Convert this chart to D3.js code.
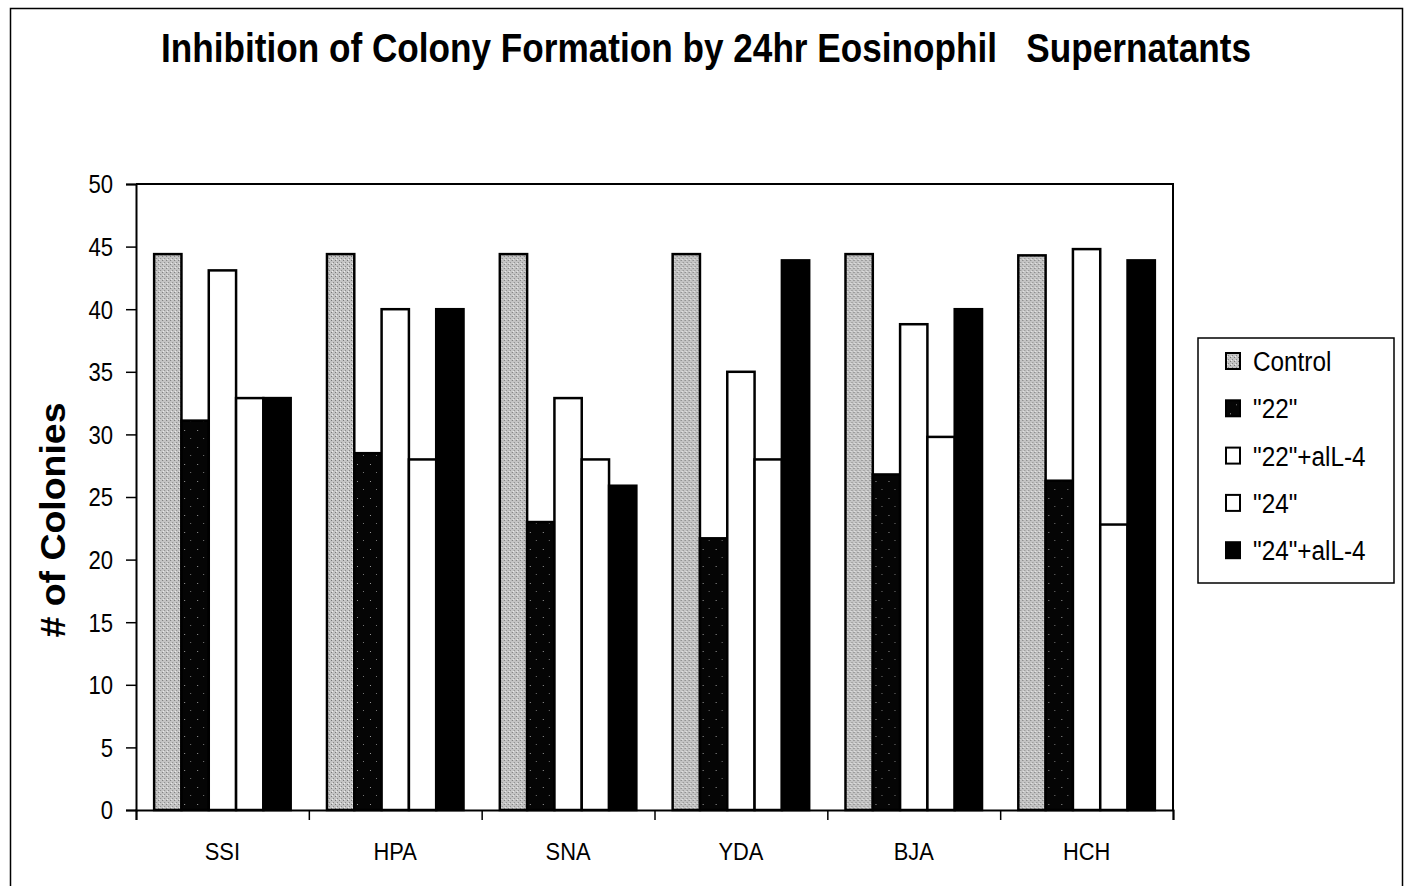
<!DOCTYPE html>
<html><head><meta charset="utf-8">
<script src="https://cdn.jsdelivr.net/npm/d3@7"></script>
<style>body{margin:0;background:#fff;} svg{display:block;}</style>
</head><body>
<script>
const categories = ["SSI","HPA","SNA","YDA","BJA","HCH"];
const seriesNames = ["Control","\"22\"","\"22\"+alL-4","\"24\"","\"24\"+alL-4"];
const control   = [44.4, 44.4, 44.4, 44.4, 44.4, 44.3];
const s22       = [31.1, 28.5, 23.0, 21.7, 26.8, 26.3];
const s22aIL4   = [43.1, 40.0, 32.9, 35.0, 38.8, 44.8];
const s24       = [32.9, 28.0, 28.0, 28.0, 29.8, 22.8];
const s24aIL4   = [32.9, 40.0, 25.9, 43.9, 40.0, 43.9];
const yTicks = [0,5,10,15,20,25,30,35,40,45,50];
const title = "Inhibition of Colony Formation by 24hr Eosinophil   Supernatants";
const yTitle = "# of Colonies";

(function(){
const series = [control, s22, s22aIL4, s24, s24aIL4];
const fills = ["url(#stipple)","url(#speckle)","#fff","#fff","#000"];

const W = 1406, H = 886;
const svg = d3.select("body").append("svg").attr("width", W).attr("height", H);
const defs = svg.append("defs");
const st = defs.append("pattern").attr("id","stipple").attr("patternUnits","userSpaceOnUse").attr("width",4).attr("height",4);
st.append("rect").attr("width",4).attr("height",4).attr("fill","#c4c4c4");
st.append("rect").attr("x",0).attr("y",0).attr("width",1).attr("height",1).attr("fill","#777");
st.append("rect").attr("x",2).attr("y",2).attr("width",1).attr("height",1).attr("fill","#888");
st.append("rect").attr("x",1).attr("y",3).attr("width",1).attr("height",1).attr("fill","#eee");
const sp = defs.append("pattern").attr("id","speckle").attr("patternUnits","userSpaceOnUse").attr("width",13).attr("height",17);
sp.append("rect").attr("width",13).attr("height",17).attr("fill","#050505");
sp.append("rect").attr("x",4).attr("y",5).attr("width",1).attr("height",1).attr("fill","#999");
sp.append("rect").attr("x",10).attr("y",13).attr("width",1).attr("height",1).attr("fill","#777");

svg.append("rect").attr("width",W).attr("height",H).attr("fill","#fff");
svg.append("path").attr("d",`M10.5,${H} V8.5 H1402.5 V${H}`).attr("fill","none").attr("stroke","#000").attr("stroke-width",1.5);

const pl = 136, pr = 1173, pt = 184, pb = 810;
const x0 = d3.scaleBand().domain(categories).range([pl, pr]).paddingInner(0.21).paddingOuter(0.105);
const x1 = d3.scaleBand().domain(d3.range(5)).range([0, x0.bandwidth()]);
const y = d3.scaleLinear().domain([0,50]).range([pb, pt]);

const font = "'Liberation Sans',Arial,sans-serif";
function condense(sel, f) {
  sel.each(function(){ const w = this.getComputedTextLength(); d3.select(this).attr("textLength", w*f).attr("lengthAdjust","spacingAndGlyphs"); });
}

categories.forEach((c, ci) => {
  const g = svg.append("g").attr("transform", `translate(${x0(c)},0)`);
  series.forEach((s, si) => {
    g.append("rect")
      .attr("x", x1(si)).attr("width", x1.bandwidth())
      .attr("y", y(s[ci])).attr("height", y(0) - y(s[ci]))
      .attr("fill", fills[si]).attr("stroke", "#000").attr("stroke-width", 2.5);
  });
});

svg.append("path").attr("d",`M${pl},${pt} H${pr} V${pb}`).attr("fill","none").attr("stroke","#000").attr("stroke-width",2);

const ya = svg.append("g").attr("transform",`translate(${pl},0)`)
  .call(d3.axisLeft(y).tickValues(yTicks).tickSize(10).tickPadding(13));
ya.select(".domain").attr("stroke-width",2);
ya.selectAll(".tick line").attr("stroke-width",1.5);
ya.selectAll("text").attr("font-family",font).attr("font-size",26).attr("fill","#000").attr("dy","0.34em");
condense(ya.selectAll("text"), 0.85);

const xb = d3.scaleLinear().domain([0,6]).range([pl,pr]);
const xa = svg.append("g").attr("transform",`translate(0,${pb})`)
  .call(d3.axisBottom(xb).tickValues(d3.range(7)).tickSize(10).tickFormat(""));
xa.select(".domain").attr("stroke-width",2);
xa.selectAll(".tick line").attr("stroke-width",1.5);
const xl = svg.append("g").selectAll("text").data(categories).join("text")
  .attr("x", d => x0(d) + x0.bandwidth()/2).attr("y", 860)
  .attr("text-anchor","middle").attr("font-family",font).attr("font-size",23).text(d=>d);
condense(xl, 0.95);

svg.append("text").attr("x", 706).attr("y", 62).attr("text-anchor","middle")
  .style("white-space","pre")
  .attr("font-family",font).attr("font-weight","bold").attr("font-size",40)
  .attr("textLength",1090).attr("lengthAdjust","spacingAndGlyphs").text(title);

svg.append("text").attr("transform","translate(65,520) rotate(-90)").attr("text-anchor","middle")
  .attr("font-family",font).attr("font-weight","bold").attr("font-size",35)
  .attr("textLength",235).attr("lengthAdjust","spacingAndGlyphs").text(yTitle);

svg.append("rect").attr("x",1198).attr("y",338).attr("width",196).attr("height",245)
  .attr("fill","#fff").attr("stroke","#000").attr("stroke-width",1.5);
const lg = svg.append("g").selectAll("g").data(seriesNames).join("g")
  .attr("transform",(d,i)=>`translate(1226,${361 + i*47.3})`);
lg.append("rect").attr("x",0).attr("y",-8).attr("width",14).attr("height",16)
  .attr("fill",(d,i)=>fills[i]).attr("stroke","#000").attr("stroke-width",2);
const lt = lg.append("text").attr("x",27).attr("y",10).attr("font-family",font).attr("font-size",27).text(d=>d);
condense(lt, 0.9);
})();
</script>
</body></html>
